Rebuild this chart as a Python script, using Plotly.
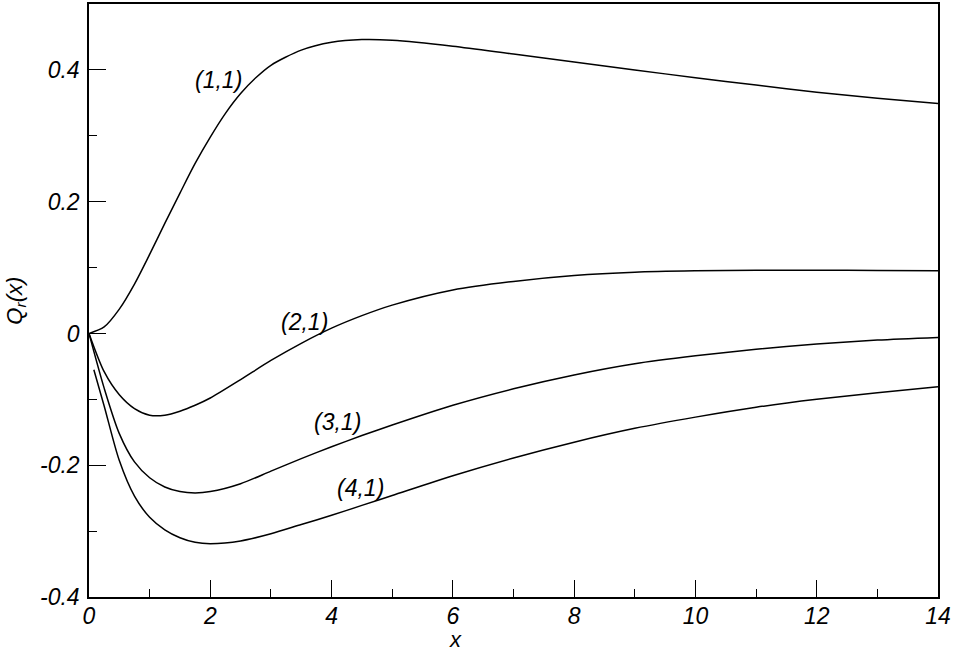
import plotly.graph_objects as go

# ---- data ----
x11 = [0, 0.25, 0.5, 0.75, 1.0, 1.25, 1.5, 1.75, 2.0, 2.25, 2.5, 2.75, 3.0, 3.5, 4.0, 4.5, 5.0, 6, 7, 8, 9, 10, 11, 12, 13, 14]
q11 = [0, 0.010, 0.037, 0.075, 0.120, 0.167, 0.213, 0.258, 0.298, 0.334, 0.364, 0.388, 0.407, 0.430, 0.442, 0.446, 0.445, 0.436, 0.424, 0.412, 0.400, 0.388, 0.377, 0.366, 0.357, 0.349]

x21 = [0, 0.25, 0.5, 0.75, 1.0, 1.25, 1.5, 1.75, 2.0, 2.5, 3.0, 3.5, 4.0, 4.5, 5.0, 6, 7, 8, 9, 10, 11, 12, 13, 14]
q21 = [0, -0.058, -0.093, -0.114, -0.124, -0.124, -0.118, -0.109, -0.098, -0.070, -0.041, -0.015, 0.008, 0.027, 0.043, 0.066, 0.079, 0.088, 0.093, 0.095, 0.096, 0.096, 0.0955, 0.095]

x31 = [0, 0.25, 0.5, 0.75, 1.0, 1.25, 1.5, 1.75, 2.0, 2.5, 3.0, 3.5, 4.0, 4.5, 5.0, 6, 7, 8, 9, 10, 11, 12, 13, 14]
q31 = [0, -0.083, -0.152, -0.195, -0.219, -0.233, -0.240, -0.242, -0.240, -0.228, -0.209, -0.190, -0.172, -0.155, -0.139, -0.109, -0.084, -0.063, -0.046, -0.034, -0.024, -0.016, -0.010, -0.006]

x41 = [0.08, 0.25, 0.5, 0.75, 1.0, 1.25, 1.5, 1.75, 2.0, 2.5, 3.0, 3.5, 4.0, 4.5, 5.0, 6, 7, 8, 9, 10, 11, 12, 13, 14]
q41 = [-0.055, -0.110, -0.193, -0.247, -0.279, -0.298, -0.310, -0.317, -0.319, -0.315, -0.304, -0.290, -0.276, -0.261, -0.246, -0.216, -0.189, -0.165, -0.144, -0.127, -0.112, -0.100, -0.090, -0.081]

labels = ["(1,1)", "(2,1)", "(3,1)", "(4,1)"]
label_x = [2.13, 3.56, 4.1, 4.47]
label_y = [0.385, 0.017, -0.134, -0.234]

xticks = [0, 2, 4, 6, 8, 10, 12, 14]
xtick_text = ["0", "2", "4", "6", "8", "10", "12", "14"]
xminor = [1, 3, 5, 7, 9, 11, 13]
yticks = [-0.4, -0.2, 0, 0.2, 0.4]
ytick_text = ["-0.4", "-0.2", "0", "0.2", "0.4"]
yminor = [-0.3, -0.1, 0.1, 0.3]

FONT = "Liberation Sans, Arial, Helvetica, sans-serif"

fig = go.Figure()
for xs, ys in [(x11, q11), (x21, q21), (x31, q31), (x41, q41)]:
    fig.add_trace(go.Scatter(x=xs, y=ys, mode="lines",
                             line=dict(color="black", width=1.5, shape="spline", smoothing=0.8),
                             showlegend=False, hoverinfo="skip"))

for t, lx, ly in zip(labels, label_x, label_y):
    fig.add_annotation(x=lx, y=ly, xref="x", yref="y", text=t, showarrow=False,
                       xanchor="center", yanchor="middle",
                       font=dict(family=FONT, size=23, color="black", style="italic"))

# axis titles
fig.add_annotation(x=6.04, y=-0.072, xref="x", yref="paper", text="x", showarrow=False,
                   xanchor="center", yanchor="middle", borderpad=0,
                   font=dict(family=FONT, size=22, color="black", style="italic"))
fig.add_annotation(x=-0.087, y=0.05, xref="paper", yref="y", text="Q<sub>r</sub>(x)", showarrow=False,
                   xanchor="center", yanchor="middle", textangle=-90,
                   font=dict(family=FONT, size=22, color="black", style="italic"))

axis_common = dict(showgrid=False, zeroline=False, showline=True, linecolor="black", linewidth=1.5,
                   mirror=True, ticks="inside", ticklen=17, tickwidth=1.2, tickcolor="black",
                   tickfont=dict(family=FONT, size=23, color="black", style="italic"))

fig.update_xaxes(range=[0, 14], tickmode="array", tickvals=xticks, ticktext=xtick_text,
                 minor=dict(ticks="inside", ticklen=8, tickwidth=1.2, tickcolor="black", tickvals=xminor),
                 ticklabelstandoff=-2, **axis_common)
fig.update_yaxes(range=[-0.4, 0.5], tickmode="array", tickvals=yticks, ticktext=ytick_text,
                 minor=dict(ticks="inside", ticklen=8, tickwidth=1.2, tickcolor="black", tickvals=yminor),
                 ticklabelstandoff=3, **axis_common)

fig.update_layout(width=954, height=647, margin=dict(l=89, r=16, t=2, b=50),
                  plot_bgcolor="white", paper_bgcolor="white")

fig.write_html("out.html", config={"displayModeBar": False},
               post_script="document.body.style.margin='0';document.body.style.padding='0';")
